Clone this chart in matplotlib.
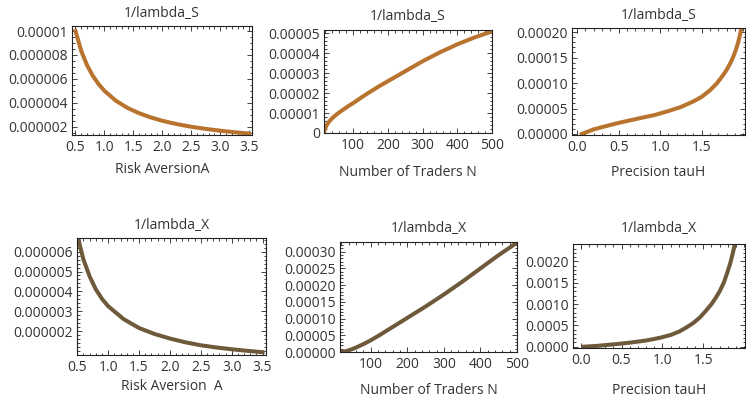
import matplotlib
matplotlib.use("Agg")
import matplotlib.pyplot as plt
from matplotlib.ticker import MultipleLocator, FixedLocator

plt.rcParams['font.family'] = ['Open Sans', 'DejaVu Sans']

# ---------------- data ----------------
# Panel 1: 1/lambda_S vs Risk Aversion A
A1 = [0.5, 0.6, 0.7, 0.8, 0.9, 1.0, 1.2, 1.4, 1.6, 1.8, 2.0, 2.25, 2.5, 2.75, 3.0, 3.25, 3.5]
S1 = [1.0e-5, 8.33e-6, 7.14e-6, 6.25e-6, 5.56e-6, 5.0e-6, 4.17e-6, 3.57e-6, 3.13e-6,
      2.78e-6, 2.5e-6, 2.22e-6, 2.0e-6, 1.82e-6, 1.67e-6, 1.54e-6, 1.43e-6]

# Panel 2: 1/lambda_S vs Number of Traders N
N2 = [16, 17, 18, 20, 23, 27, 32, 40, 50, 62, 75, 87, 100, 125, 150, 175, 200, 250,
      300, 350, 400, 450, 500]
S2 = [0.0, 0.1e-5, 0.16e-5, 0.26e-5, 0.37e-5, 0.48e-5, 0.6e-5, 0.75e-5, 0.9e-5, 1.06e-5,
      1.22e-5, 1.36e-5, 1.5e-5, 1.8e-5, 2.08e-5, 2.35e-5, 2.6e-5, 3.1e-5,
      3.6e-5, 4.05e-5, 4.45e-5, 4.8e-5, 5.1e-5]

# Panel 3: 1/lambda_S vs Precision tauH
T3 = [0.056, 0.2, 0.35, 0.48, 0.7, 0.94, 1.1, 1.25, 1.40, 1.5, 1.6, 1.68, 1.75, 1.8,
      1.85, 1.88, 1.91, 1.94, 1.96, 1.98]
S3 = [0.0, 0.9e-5, 1.55e-5, 2.1e-5, 2.9e-5, 3.75e-5, 4.5e-5, 5.3e-5, 6.4e-5, 7.3e-5,
      8.6e-5, 9.9e-5, 1.14e-4, 1.26e-4, 1.41e-4, 1.52e-4, 1.65e-4, 1.81e-4, 1.95e-4, 2.1e-4]

# Panel 4: 1/lambda_X vs Risk Aversion A
A4 = [0.5, 0.55, 0.6, 0.7, 0.8, 0.9, 1.0, 1.25, 1.5, 1.75, 2.0, 2.25, 2.5, 2.75, 3.0,
      3.25, 3.5]
X4 = [6.9e-6, 6.2e-6, 5.6e-6, 4.75e-6, 4.1e-6, 3.62e-6, 3.25e-6, 2.6e-6, 2.15e-6,
      1.85e-6, 1.62e-6, 1.43e-6, 1.28e-6, 1.17e-6, 1.08e-6, 1.0e-6, 0.93e-6]

# Panel 5: 1/lambda_X vs Number of Traders N
N5 = [16, 20, 25, 30, 40, 50, 62, 75, 87, 100, 125, 150, 200, 250, 300, 350, 400, 450, 500]
X5 = [0.0, 0.03e-5, 0.1e-5, 0.2e-5, 0.5e-5, 0.9e-5, 1.45e-5, 2.1e-5, 2.75e-5, 3.5e-5,
      5.1e-5, 6.8e-5, 1.02e-4, 1.36e-4, 1.72e-4, 2.1e-4, 2.5e-4, 2.9e-4, 3.27e-4]

# Panel 6: 1/lambda_X vs Precision tauH
T6 = [0.03, 0.2, 0.4, 0.6, 0.8, 0.97, 1.1, 1.21, 1.3, 1.38, 1.46, 1.53, 1.6, 1.65, 1.7,
      1.75, 1.79, 1.83, 1.86, 1.89]
X6 = [0.0, 0.2e-4, 0.55e-4, 0.95e-4, 1.45e-4, 2.1e-4, 2.75e-4, 3.6e-4, 4.6e-4, 5.6e-4,
      6.9e-4, 8.4e-4, 1.0e-3, 1.14e-3, 1.3e-3, 1.5e-3, 1.72e-3, 1.96e-3, 2.19e-3, 2.43e-3]

TITLES = ['1/lambda_S', '1/lambda_S', '1/lambda_S', '1/lambda_X', '1/lambda_X', '1/lambda_X']
XLABELS = ['Risk AversionA', 'Number of Traders N', 'Precision tauH',
           'Risk Aversion  A', 'Number of Traders N', 'Precision tauH']

C_S = '#b8732f'
C_X = '#6e5a3b'
FRAME = '#222222'
TXT = '#333333'
FS = 10

W, H = 746, 396
fig = plt.figure(figsize=(W / 100, H / 100), dpi=100)


def make_axes(l, r, t, b, title_y, xlabel_y):
    ax = fig.add_axes([l / W, 1 - b / H, (r - l) / W, (b - t) / H])
    hp = b - t
    ax._ty = (b - title_y) / hp
    ax._ly = (b - xlabel_y) / hp
    return ax


def style(ax, title, xlabel, xticks, xfmt, yticks, yfmt, xminor, yminor):
    ax.text(0.5, ax._ty, title, transform=ax.transAxes, ha='center', va='center',
            fontsize=FS, color=TXT)
    ax.set_xlabel(xlabel, fontsize=FS, color=TXT)
    ax.xaxis.label.set_va('center')
    ax.xaxis.set_label_coords(0.5, ax._ly)
    ax.xaxis.set_major_locator(FixedLocator(xticks))
    ax.set_xticklabels([xfmt(v) for v in xticks])
    ax.yaxis.set_major_locator(FixedLocator(yticks))
    ax.set_yticklabels([yfmt(v) for v in yticks])
    ax.xaxis.set_minor_locator(MultipleLocator(xminor))
    ax.yaxis.set_minor_locator(MultipleLocator(yminor))
    ax.tick_params(which='both', direction='in', top=True, right=True,
                   colors=FRAME, labelcolor=TXT, labelsize=FS, width=0.6)
    ax.tick_params(which='major', length=3.5)
    ax.tick_params(which='minor', length=1.8)
    ax.tick_params(axis='x', which='major', pad=3.5)
    ax.tick_params(axis='y', which='major', pad=3.0)
    for s in ax.spines.values():
        s.set_color(FRAME)
        s.set_linewidth(0.8)


lw = 2.9

# Panel 1
ax = make_axes(72, 252, 26, 135, 14, 170)
ax.plot(A1, S1, color=C_S, lw=lw)
ax.set_xlim(0.44, 3.55)
ax.set_ylim(1.31e-6, 1.042e-5)
style(ax, TITLES[0], XLABELS[0], [0.5, 1.0, 1.5, 2.0, 2.5, 3.0, 3.5], lambda v: f'{v:.1f}',
      [2e-6, 4e-6, 6e-6, 8e-6, 1e-5], lambda v: ('0.00001' if v >= 1e-5 else f'{v:.6f}'),
      0.1, 0.5e-6)

# Panel 2
ax = make_axes(324, 492, 30, 133, 16, 172)
ax.plot(N2, S2, color=C_S, lw=lw)
ax.set_xlim(16, 500)
ax.set_ylim(0, 5.17e-5)
style(ax, TITLES[1], XLABELS[1], [100, 200, 300, 400, 500], lambda v: f'{v:d}',
      [0, 1e-5, 2e-5, 3e-5, 4e-5, 5e-5], lambda v: ('0' if v == 0 else f'{v:.5f}'),
      20, 0.2e-5)

# Panel 3
ax = make_axes(572, 745, 28, 135, 16, 173)
ax.plot(T3, S3, color=C_S, lw=lw)
ax.set_xlim(-0.06, 2.02)
ax.set_ylim(-0.02e-4, 2.08e-4)
style(ax, TITLES[2], XLABELS[2], [0.0, 0.5, 1.0, 1.5], lambda v: f'{v:.1f}',
      [0, 5e-5, 1e-4, 1.5e-4, 2e-4], lambda v: f'{v:.5f}',
      0.1, 1e-5)

# Panel 4
ax = make_axes(77, 266, 238, 355, 225, 387)
ax.plot(A4, X4, color=C_X, lw=lw)
ax.set_xlim(0.495, 3.555)
ax.set_ylim(0.79e-6, 6.69e-6)
style(ax, TITLES[3], XLABELS[3], [0.5, 1.0, 1.5, 2.0, 2.5, 3.0, 3.5], lambda v: f'{v:.1f}',
      [2e-6, 3e-6, 4e-6, 5e-6, 6e-6], lambda v: f'{v:.6f}',
      0.1, 0.2e-6)

# Panel 5
ax = make_axes(340, 517, 242, 352, 228, 390)
ax.plot(N5, X5, color=C_X, lw=lw)
ax.set_xlim(16, 500)
ax.set_ylim(0, 3.29e-4)
style(ax, TITLES[4], XLABELS[4], [100, 200, 300, 400, 500], lambda v: f'{v:d}',
      [0, 5e-5, 1e-4, 1.5e-4, 2e-4, 2.5e-4, 3e-4], lambda v: f'{v:.5f}',
      20, 1e-5)

# Panel 6
ax = make_axes(573, 745, 244, 348, 228, 390)
ax.plot(T6, X6, color=C_X, lw=lw)
ax.set_xlim(-0.094, 2.01)
ax.set_ylim(-0.3e-4, 2.41e-3)
style(ax, TITLES[5], XLABELS[5], [0.0, 0.5, 1.0, 1.5], lambda v: f'{v:.1f}',
      [0, 5e-4, 1e-3, 1.5e-3, 2e-3], lambda v: f'{v:.4f}',
      0.1, 1e-4)

fig.savefig('out.png', dpi=100)
